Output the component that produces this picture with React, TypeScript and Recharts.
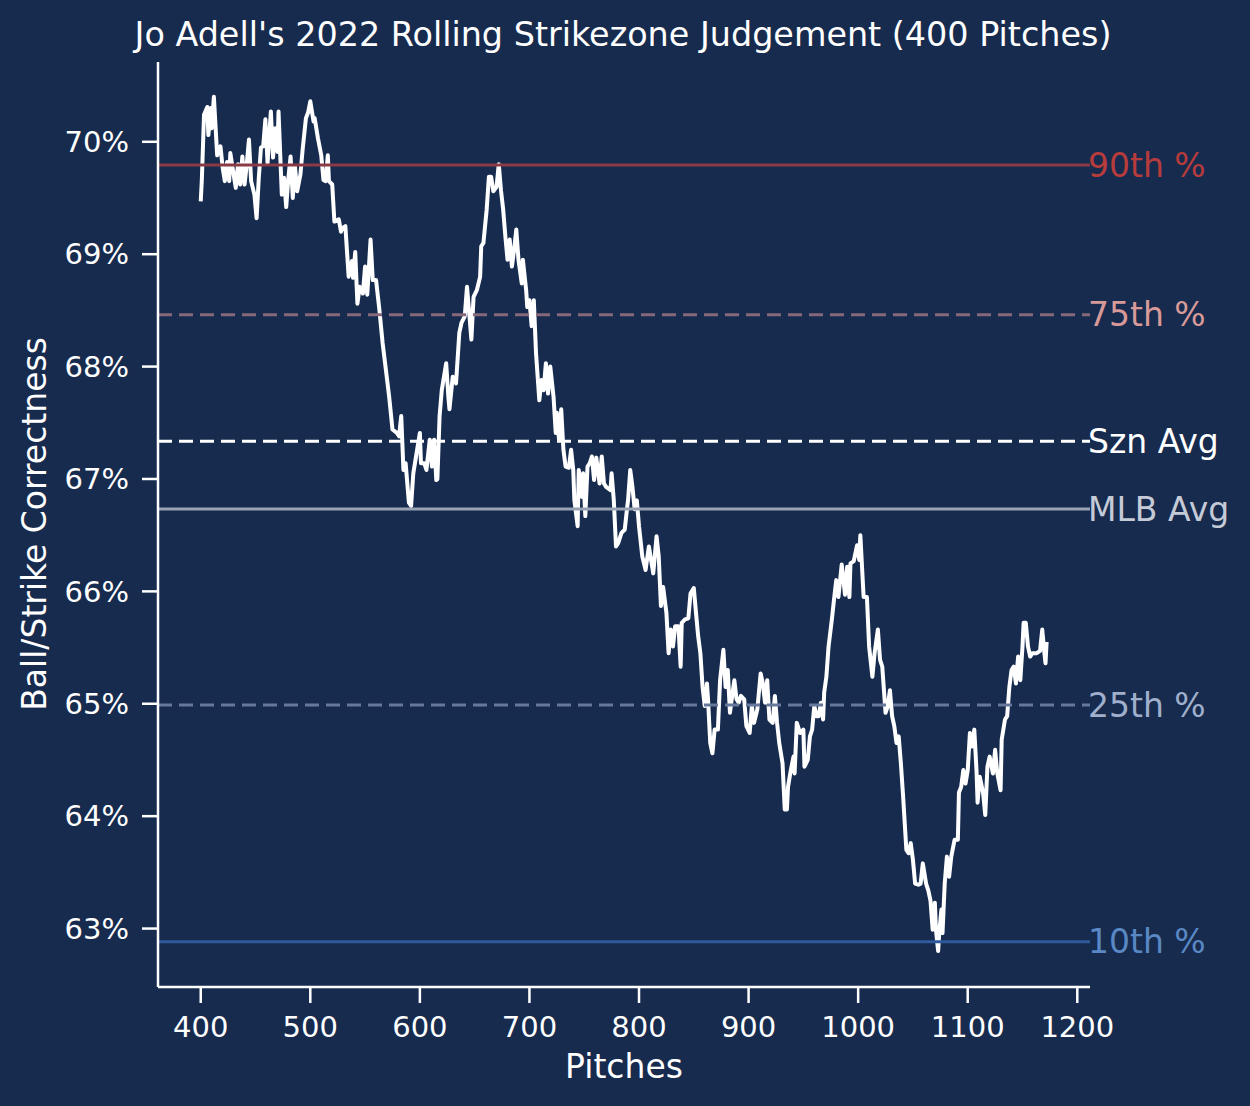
import React from 'react';
import { LineChart, Line, XAxis, YAxis, ReferenceLine } from 'recharts';

const pitches = [
  400, 401, 403, 406, 407, 409, 410, 412, 415, 418, 420, 422, 424, 426, 427, 430, 432, 434, 436, 438,
  440, 442, 444, 446, 449, 451, 453, 455, 457, 459, 461, 464, 466, 468, 470, 471, 474, 476, 478, 480,
  482, 484, 486, 488, 491, 493, 496, 498, 500, 503, 504, 507, 510, 512, 514, 516, 517, 520, 522, 526,
  528, 529, 532, 535, 538, 539, 541, 543, 545, 548, 550, 552, 555, 557, 560, 563, 566, 569, 572, 575,
  579, 581, 583, 585, 587, 590, 592, 594, 597, 600, 601, 604, 606, 609, 611, 613, 615, 616, 618, 620,
  624, 626, 627, 630, 633, 636, 638, 641, 643, 645, 647, 649, 652, 655, 656, 658, 661, 663, 665, 667,
  670, 672, 674, 676, 678, 680, 682, 684, 686, 688, 690, 693, 694, 697, 698, 700, 702, 704, 706, 709,
  711, 713, 715, 717, 719, 722, 724, 725, 727, 729, 731, 733, 736, 738, 740, 741, 744, 745, 748, 749,
  751, 753, 755, 757, 759, 761, 764, 766, 768, 770, 774, 775, 777, 779, 781, 784, 787, 789, 790, 792,
  794, 796, 798, 800, 803, 806, 809, 811, 813, 816, 818, 820, 822, 825, 827, 829, 831, 833, 836, 838,
  839, 842, 845, 847, 850, 852, 854, 856, 858, 860, 862, 863, 865, 867, 869, 872, 874, 877, 879, 881,
  883, 885, 887, 889, 891, 893, 896, 898, 901, 903, 905, 908, 911, 913, 915, 917, 919, 922, 924, 926,
  928, 931, 933, 935, 936, 938, 941, 942, 944, 947, 950, 951, 954, 956, 958, 960, 962, 964, 966, 968,
  969, 971, 973, 976, 978, 980, 982, 985, 988, 990, 992, 993, 996, 999, 1001, 1002, 1005, 1008, 1010, 1013,
  1015, 1018, 1020, 1022, 1025, 1027, 1029, 1031, 1033, 1035, 1037, 1039, 1041, 1044, 1046, 1048, 1050, 1052, 1055, 1057,
  1059, 1062, 1064, 1066, 1068, 1070, 1071, 1073, 1074, 1076, 1077, 1079, 1081, 1083, 1085, 1088, 1091, 1092, 1094, 1096,
  1098, 1100, 1102, 1104, 1106, 1108, 1109, 1111, 1114, 1116, 1118, 1120, 1123, 1125, 1127, 1130, 1131, 1134, 1136, 1138,
  1140, 1142, 1144, 1146, 1148, 1150, 1151, 1153, 1155, 1157, 1159, 1163, 1166, 1168, 1170, 1171, 1172,
];

const correctness = [
  69.47, 69.66, 70.24, 70.31, 70.06, 70.30, 70.12, 70.40, 69.88, 69.96, 69.77, 69.65, 69.82, 69.65, 69.90, 69.71, 69.59, 69.80, 69.62, 69.87,
  69.62, 69.80, 70.02, 69.65, 69.53, 69.32, 69.68, 69.95, 69.96, 70.20, 69.81, 70.27, 69.86, 70.12, 69.91, 70.27, 69.53, 69.68, 69.42, 69.68,
  69.87, 69.50, 69.78, 69.56, 69.71, 69.93, 70.21, 70.26, 70.36, 70.18, 70.21, 70.03, 69.88, 69.66, 69.65, 69.88, 69.65, 69.62, 69.29, 69.31,
  69.20, 69.23, 69.25, 68.80, 68.94, 68.79, 69.02, 68.56, 68.71, 68.65, 68.89, 68.64, 69.13, 68.77, 68.77, 68.51, 68.21, 67.97, 67.73, 67.44,
  67.41, 67.38, 67.56, 67.08, 67.14, 66.79, 66.76, 67.05, 67.23, 67.41, 67.14, 67.14, 67.08, 67.35, 67.11, 67.35, 66.99, 67.00, 67.56, 67.79,
  68.03, 67.73, 67.62, 67.91, 67.85, 68.30, 68.39, 68.45, 68.71, 68.48, 68.24, 68.62, 68.68, 68.80, 69.07, 69.10, 69.40, 69.69, 69.69, 69.56,
  69.60, 69.80, 69.57, 69.40, 69.16, 68.95, 69.13, 68.89, 69.04, 69.22, 68.95, 68.74, 68.95, 68.68, 68.53, 68.59, 68.36, 68.59, 68.12, 67.70,
  67.88, 67.79, 68.03, 67.76, 68.00, 67.73, 67.41, 67.59, 67.35, 67.62, 67.26, 67.11, 67.10, 67.26, 67.08, 66.81, 66.58, 67.08, 66.84, 67.05,
  66.67, 67.11, 67.14, 67.20, 66.99, 67.19, 66.96, 67.20, 66.96, 66.93, 66.90, 67.05, 66.81, 66.40, 66.43, 66.52, 66.55, 66.73, 66.81, 67.08,
  66.93, 66.73, 66.81, 66.58, 66.31, 66.19, 66.40, 66.28, 66.16, 66.49, 66.31, 65.87, 66.04, 65.81, 65.45, 65.66, 65.51, 65.69, 65.69, 65.33,
  65.72, 65.75, 65.76, 65.98, 66.03, 65.81, 65.60, 65.45, 65.15, 64.98, 65.18, 65.04, 64.65, 64.56, 64.77, 64.77, 65.21, 65.48, 65.15, 65.30,
  64.92, 65.07, 65.21, 65.04, 65.01, 65.07, 65.04, 64.80, 64.74, 64.98, 64.83, 64.95, 65.27, 65.18, 65.01, 65.21, 64.86, 64.83, 65.07, 64.83,
  64.65, 64.47, 64.06, 64.06, 64.26, 64.38, 64.53, 64.38, 64.83, 64.74, 64.77, 64.44, 64.50, 64.71, 64.77, 64.98, 64.89, 64.89, 65.01, 64.86,
  65.10, 65.24, 65.51, 65.75, 65.93, 66.10, 65.95, 66.24, 65.97, 66.22, 65.95, 66.25, 66.27, 66.41, 66.28, 66.50, 65.95, 65.95, 65.51, 65.24,
  65.45, 65.66, 65.39, 65.33, 64.92, 64.98, 65.12, 64.89, 64.80, 64.65, 64.71, 64.47, 64.18, 63.70, 63.67, 63.76, 63.61, 63.40, 63.39, 63.40,
  63.58, 63.40, 63.34, 63.25, 62.99, 63.23, 62.99, 62.80, 62.96, 63.17, 62.96, 63.40, 63.64, 63.46, 63.64, 63.79, 63.79, 64.21, 64.26, 64.41,
  64.29, 64.41, 64.74, 64.62, 64.77, 64.41, 64.12, 64.35, 64.21, 64.01, 64.44, 64.53, 64.38, 64.59, 64.38, 64.23, 64.68, 64.86, 64.89, 65.15,
  65.30, 65.33, 65.18, 65.42, 65.21, 65.51, 65.72, 65.72, 65.51, 65.42, 65.45, 65.45, 65.47, 65.66, 65.45, 65.36, 65.55,
];

const xTicks = [400, 500, 600, 700, 800, 900, 1000, 1100, 1200];
const yTicks = [63, 64, 65, 66, 67, 68, 69, 70];

const refNames = ['90th %', '75th %', 'Szn Avg', 'MLB Avg', '25th %', '10th %'];
const refValues = [69.793, 68.462, 67.335, 66.734, 64.99, 62.883];
const refLabelColors = ['#b83c3c', '#d89a98', '#ffffff', '#c4cad6', '#a0b0cc', '#5a88c4'];
const refLineColors = ['#8a3a45', '#85687a', '#ffffff', '#9aa3b4', '#66799c', '#2e5a9c'];
const refDashed = [false, true, true, false, true, false];

const TITLE = "Jo Adell's 2022 Rolling Strikezone Judgement (400 Pitches)";
const X_LABEL = 'Pitches';
const Y_LABEL = 'Ball/Strike Correctness';

const BG = '#172b4f';
const FONT = '"DejaVu Sans", sans-serif';

const rows = pitches.map((p, i) => ({ pitch: p, value: correctness[i] }));

export default function App() {
  return (
    <div style={{ position: 'absolute', left: 0, top: 0, width: 1250, height: 1106, background: BG, fontFamily: FONT }}>
      <LineChart
        width={1250}
        height={1106}
        data={rows}
        margin={{ top: 62, right: 160, bottom: 59, left: 0 }}
        style={{ position: 'absolute', left: 0, top: 0 }}
      >
        <XAxis
          type="number"
          dataKey="pitch"
          domain={[361, 1211.6]}
          ticks={xTicks}
          allowDataOverflow
          height={60}
          tickSize={16}
          tickMargin={13}
          axisLine={{ stroke: '#ffffff', strokeWidth: 2.5 }}
          tickLine={{ stroke: '#ffffff', strokeWidth: 2.5 }}
          tick={{ fill: '#ffffff', fontSize: 29, fontFamily: FONT }}
        />
        <YAxis
          type="number"
          domain={[62.48, 70.71]}
          ticks={yTicks}
          allowDataOverflow
          width={158}
          tickSize={16}
          tickMargin={13}
          tickFormatter={(v: number) => `${v}%`}
          axisLine={{ stroke: '#ffffff', strokeWidth: 2.5 }}
          tickLine={{ stroke: '#ffffff', strokeWidth: 2.5 }}
          tick={{ fill: '#ffffff', fontSize: 29, fontFamily: FONT }}
        />
        <Line
          type="linear"
          dataKey="value"
          stroke="#ffffff"
          strokeWidth={4}
          strokeLinejoin="round"
          dot={false}
          activeDot={false}
          isAnimationActive={false}
        />
        {refValues.map((v, i) => (
          <ReferenceLine
            key={refNames[i]}
            y={v}
            stroke={refLineColors[i]}
            strokeWidth={3}
            strokeDasharray={refDashed[i] ? '14 7' : undefined}
            label={{
              value: refNames[i],
              position: 'right',
              offset: -2,
              fill: refLabelColors[i],
              fontSize: 33,
              fontFamily: FONT,
            }}
          />
        ))}
      </LineChart>
      <svg width={1250} height={1106} style={{ position: 'absolute', left: 0, top: 0, pointerEvents: 'none' }}>
        <text x={623} y={46} textAnchor="middle" fill="#ffffff" fontSize={33.4} fontFamily={FONT}>
          {TITLE}
        </text>
        <text x={624} y={1078} textAnchor="middle" fill="#ffffff" fontSize={33} fontFamily={FONT}>
          {X_LABEL}
        </text>
        <text
          x={46}
          y={524}
          textAnchor="middle"
          fill="#ffffff"
          fontSize={33}
          fontFamily={FONT}
          transform="rotate(-90 46 524)"
        >
          {Y_LABEL}
        </text>
      </svg>
    </div>
  );
}
